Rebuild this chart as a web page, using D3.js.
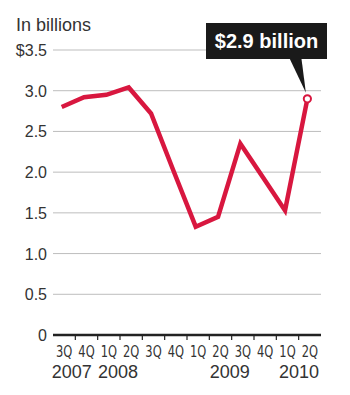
<!DOCTYPE html>
<html>
<head>
<meta charset="utf-8">
<script src="https://cdn.jsdelivr.net/npm/d3@7"></script>
<style>
  body { margin: 0; background: #fff; }
  svg { display: block; }
  .ylab { font-family: "Liberation Sans", Arial, sans-serif; font-size: 16px; fill: #333; }
  .qlab { font-family: "Liberation Sans Narrow", "DejaVu Sans Condensed", sans-serif; font-size: 15px; fill: #333; }
  .yrlab { font-family: "Liberation Sans", Arial, sans-serif; font-size: 18px; fill: #333; }
</style>
</head>
<body>
<div id="chart"></div>
<script>
// data //
const quarters = ["3Q", "4Q", "1Q", "2Q", "3Q", "4Q", "1Q", "2Q", "3Q", "4Q", "1Q", "2Q"];
const quarterYears = [2007, 2007, 2008, 2008, 2008, 2008, 2009, 2009, 2009, 2009, 2010, 2010];
const values = [2.80, 2.92, 2.95, 3.04, 2.72, 2.02, 1.33, 1.45, 2.35, 1.94, 1.53, 2.90];
const yTicks = [0, 0.5, 1.0, 1.5, 2.0, 2.5, 3.0, 3.5];
// year label spans (first and last quarter index under each year)
const yearLabels = [
  { year: "2007", from: 0, to: 0.85 },
  { year: "2008", from: 2, to: 3 },
  { year: "2009", from: 6, to: 9 },
  { year: "2010", from: 10, to: 11.2 }
];
const callout = "$2.9 billion";

const W = 350, H = 395;
const margin = { left: 53, right: 321, top: 50, bottom: 335 };
const red = "#d8173f";

const svg = d3.select("#chart").append("svg")
  .attr("width", W).attr("height", H);

const x = d3.scaleBand()
  .domain(d3.range(quarters.length))
  .range([margin.left, margin.right]);

const y = d3.scaleLinear()
  .domain([0, 3.5])
  .range([margin.bottom, margin.top]);

// unit label
svg.append("text")
  .attr("class", "ylab")
  .attr("x", 16).attr("y", 31)
  .style("font-size", "18px")
  .text("In billions");

// gridlines
svg.append("g")
  .selectAll("line")
  .data(yTicks.filter(d => d > 0))
  .join("line")
  .attr("x1", margin.left).attr("x2", margin.right)
  .attr("y1", d => y(d)).attr("y2", d => y(d))
  .attr("stroke", "#bdbdbd")
  .attr("stroke-width", 1);

// y labels
svg.append("g")
  .selectAll("text")
  .data(yTicks)
  .join("text")
  .attr("class", "ylab")
  .attr("x", 47)
  .attr("y", d => y(d) + 6)
  .attr("text-anchor", "end")
  .text(d => d === 0 ? "0" : (d === 3.5 ? "$3.5" : d.toFixed(1)));

// baseline + ticks between quarters
svg.append("line")
  .attr("x1", margin.left).attr("x2", margin.right)
  .attr("y1", margin.bottom).attr("y2", margin.bottom)
  .attr("stroke", "#222")
  .attr("stroke-width", 2.5);

svg.append("g")
  .selectAll("line")
  .data(d3.range(1, quarters.length))
  .join("line")
  .attr("x1", d => x(d)).attr("x2", d => x(d))
  .attr("y1", margin.bottom).attr("y2", margin.bottom + 5)
  .attr("stroke", "#222")
  .attr("stroke-width", 1.2);

// quarter labels
svg.append("g")
  .selectAll("text")
  .data(quarters)
  .join("text")
  .attr("class", "qlab")
  .attr("text-anchor", "middle")
  .attr("transform", (d, i) => `translate(${x(i) + x.bandwidth() / 2},357) scale(0.85,1)`)
  .text(d => d);

// year labels
svg.append("g")
  .selectAll("text")
  .data(yearLabels)
  .join("text")
  .attr("class", "yrlab")
  .attr("text-anchor", "middle")
  .attr("x", d => (x(Math.floor(d.from)) + x.bandwidth() * (d.from % 1) + x(Math.floor(d.to)) + x.bandwidth() * (1 + d.to % 1)) / 2 - 2)
  .attr("y", 378)
  .text(d => d.year);

// the line
const px = i => x(i) + x.bandwidth() * 0.39;
const line = d3.line()
  .x((d, i) => px(i))
  .y(d => y(d));

svg.append("path")
  .datum(values)
  .attr("fill", "none")
  .attr("stroke", red)
  .attr("stroke-width", 4.5)
  .attr("stroke-linejoin", "miter")
  .attr("d", line);

// callout
const last = values.length - 1;
const lx = px(last), ly = y(values[last]);
const box = { x0: 206, x1: 327, y0: 23, y1: 59 };

svg.append("path")
  .attr("d", `M${lx - 18},${box.y1 - 1} L${lx - 6},${box.y1 - 1} L${lx - 1.5},${ly - 6} Z`)
  .attr("fill", "#1a1a1a");

svg.append("rect")
  .attr("x", box.x0).attr("y", box.y0)
  .attr("width", box.x1 - box.x0).attr("height", box.y1 - box.y0)
  .attr("fill", "#1a1a1a");

svg.append("text")
  .attr("x", (box.x0 + box.x1) / 2)
  .attr("y", box.y0 + 25)
  .attr("text-anchor", "middle")
  .style("font-family", "'Liberation Sans', Arial, sans-serif")
  .style("font-weight", "bold")
  .style("font-size", "20px")
  .attr("fill", "#fff")
  .text(callout);

svg.append("circle")
  .attr("cx", lx).attr("cy", ly)
  .attr("r", 3.6)
  .attr("fill", "#fff")
  .attr("stroke", red)
  .attr("stroke-width", 2);
</script>
</body>
</html>
